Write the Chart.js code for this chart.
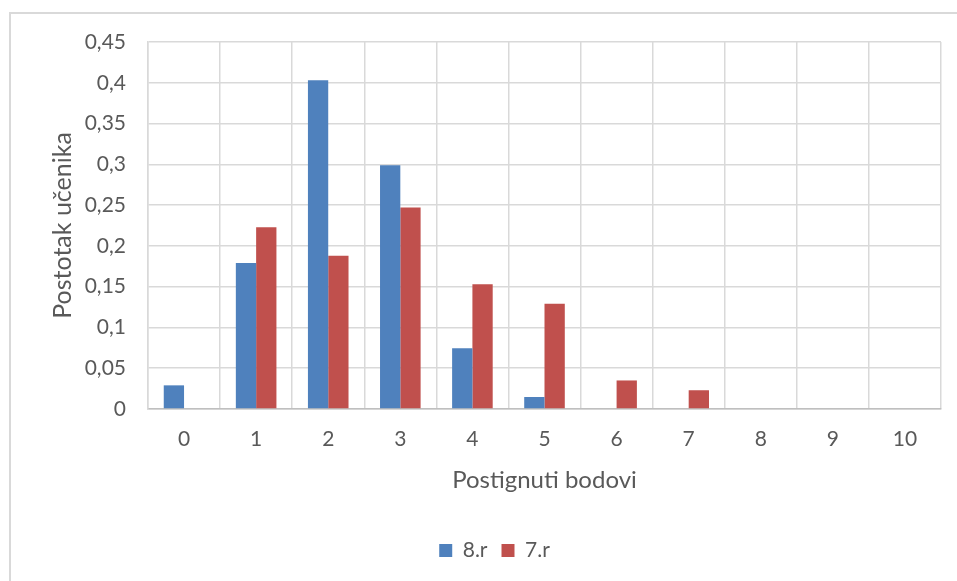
<!DOCTYPE html>
<html>
<head>
<meta charset="utf-8">
<script src="https://cdn.jsdelivr.net/npm/chart.js@4/dist/chart.umd.min.js"></script>
<style>
  html, body { margin: 0; padding: 0; background: #ffffff; overflow: hidden; }
  #frame { position: absolute; left: 9px; top: 12px; width: 1200px; height: 900px; border: 2px solid #d9d9d9; box-sizing: border-box; }
  #wrap { position: absolute; left: 0; top: 0; width: 957px; height: 581px; }
</style>
</head>
<body>
<div id="frame"></div>
<div id="wrap"><canvas id="c"></canvas></div>
<script>
const categories = ['0', '1', '2', '3', '4', '5', '6', '7', '8', '9', '10'];
const series8r = [0.029, 0.179, 0.403, 0.299, 0.0745, 0.0147, 0, 0, 0, 0, 0];
const series7r = [0, 0.223, 0.188, 0.247, 0.153, 0.129, 0.035, 0.023, 0, 0, 0];
const yTickLabels = ['0', '0,05', '0,1', '0,15', '0,2', '0,25', '0,3', '0,35', '0,4', '0,45'];
const seriesNames = ['8.r', '7.r'];
const xTitle = 'Postignuti bodovi';
const yTitle = 'Postotak učenika';

const textColor = '#595959';
const gridColor = '#d9d9d9';
const fontFamily = 'Lato, "Open Sans", sans-serif';

new Chart(document.getElementById('c'), {
  type: 'bar',
  data: {
    labels: categories,
    datasets: [
      { label: seriesNames[0], data: series8r, backgroundColor: '#4f81bd', borderWidth: 0 },
      { label: seriesNames[1], data: series7r, backgroundColor: '#c0504d', borderWidth: 0 }
    ]
  },
  options: {
    responsive: true,
    maintainAspectRatio: false,
    animation: false,
    layout: { padding: { left: 48, right: 16, top: 42, bottom: 10 } },
    datasets: { bar: { categoryPercentage: 0.563, barPercentage: 1.0 } },
    plugins: {
      legend: {
        position: 'bottom',
        labels: {
          boxWidth: 13, boxHeight: 13, padding: 14,
          color: textColor,
          font: { family: fontFamily, size: 21 }
        }
      },
      tooltip: { enabled: false }
    },
    scales: {
      x: {
        offset: true,
        grid: { offset: true, color: gridColor, lineWidth: 1.5, drawTicks: false },
        border: { color: '#bfbfbf', width: 1.5 },
        ticks: { color: textColor, padding: 18, font: { family: fontFamily, size: 21 } },
        title: {
          display: true, text: xTitle, color: textColor,
          font: { family: fontFamily, size: 24 },
          padding: { top: 0, bottom: 31.6 }
        },
        afterFit: (s) => { s.height = 117; }
      },
      y: {
        min: 0, max: 0.45,
        ticks: {
          stepSize: 0.05, color: textColor, padding: 22,
          font: { family: fontFamily, size: 21 },
          callback: (v, i) => yTickLabels[i]
        },
        grid: { color: gridColor, lineWidth: 1.5, drawTicks: false },
        border: { color: gridColor, width: 1.5 },
        title: {
          display: true, text: yTitle, color: textColor,
          font: { family: fontFamily, size: 25 },
          padding: { top: 0, bottom: 0 }
        },
        afterFit: (s) => { s.width = 100; }
      }
    }
  }
});
</script>
</body>
</html>
